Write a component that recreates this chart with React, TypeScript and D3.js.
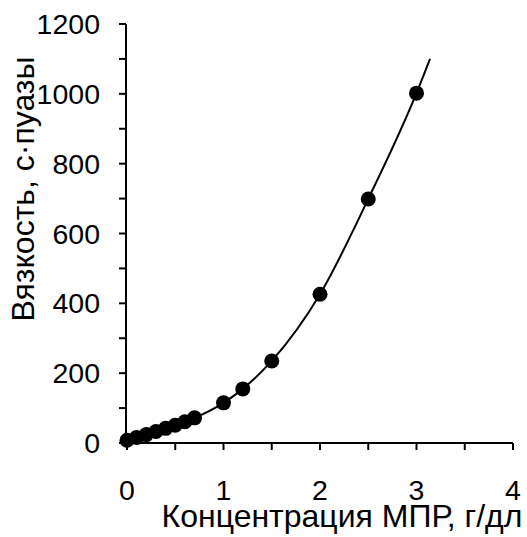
import React from "react";
import * as d3 from "d3";

// Measured viscosity vs. MPR concentration
const concentration = [0, 0.1, 0.2, 0.3, 0.4, 0.5, 0.6, 0.7, 1.0, 1.2, 1.5, 2.0, 2.5, 3.0];
const viscosity = [8, 16, 24, 33, 42, 51, 61, 72, 115, 155, 235, 426, 699, 1002];

// Trend line continues a little past the last measurement
const trendEndX = 3.14;
const trendEndY = 1100;

const xTicks = [0, 1, 2, 3, 4];
const xMinorTicks = [0, 0.5, 1, 1.5, 2, 2.5, 3, 3.5, 4];
const yTicks = [0, 200, 400, 600, 800, 1000, 1200];
const yMinorTicks = d3.range(0, 1201, 100);

const xTitle = "Концентрация МПР, г/дл";
const yTitle = "Вязкость, с·пуазы";

const W = 527;
const H = 537;
const FONT = "'Liberation Sans', Arial, sans-serif";

export default function App() {
  const x = d3.scaleLinear().domain([0, 4]).range([127, 513]);
  const y = d3.scaleLinear().domain([0, 1200]).range([443, 24]);

  const pts: [number, number][] = concentration.map((c, i) => [c, viscosity[i]]);
  const trend: [number, number][] = [...pts, [trendEndX, trendEndY]];

  const line = d3
    .line<[number, number]>()
    .x((d) => x(d[0]))
    .y((d) => y(d[1]))
    .curve(d3.curveMonotoneX);

  const x0 = x(0) - 1;
  const y0 = y(0);

  return (
    <svg
      width={W}
      height={H}
      style={{ position: "absolute", left: 0, top: 0, background: "#fff" }}
    >
      {/* axes */}
      <line x1={x0} x2={x0} y1={y(1200)} y2={y0} stroke="#000" strokeWidth={2} />
      <line x1={x0} x2={x(4)} y1={y0} y2={y0} stroke="#000" strokeWidth={2} />
      {yMinorTicks.map((v) => (
        <line key={"yt" + v} x1={x0 - 7} x2={x0} y1={y(v)} y2={y(v)} stroke="#000" strokeWidth={2} />
      ))}
      {xMinorTicks.map((v) => (
        <line key={"xt" + v} x1={x(v)} x2={x(v)} y1={y0} y2={y0 + 7} stroke="#000" strokeWidth={2} />
      ))}
      {yTicks.map((v) => (
        <text
          key={"yl" + v}
          x={100}
          y={y(v) + 10}
          textAnchor="end"
          fontFamily={FONT}
          fontSize={28.5}
          fill="#000"
        >
          {v}
        </text>
      ))}
      {xTicks.map((v) => (
        <text
          key={"xl" + v}
          x={x(v)}
          y={500}
          textAnchor="middle"
          fontFamily={FONT}
          fontSize={28.5}
          fill="#000"
        >
          {v}
        </text>
      ))}
      <text x={342} y={527} textAnchor="middle" fontFamily={FONT} fontSize={32} fill="#000">
        {xTitle}
      </text>
      <text
        transform={`translate(33.5,189) rotate(-90)`}
        textAnchor="middle"
        fontFamily={FONT}
        fontSize={32}
        fill="#000"
      >
        {yTitle}
      </text>

      {/* trend line and measurements */}
      <path d={line(trend) || ""} fill="none" stroke="#000" strokeWidth={2} />
      {pts.map((d, i) => (
        <circle key={"p" + i} cx={x(d[0])} cy={y(d[1])} r={7.5} fill="#000" />
      ))}
    </svg>
  );
}
